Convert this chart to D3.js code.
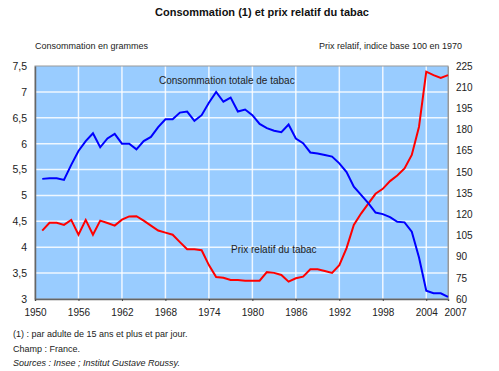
<!DOCTYPE html>
<html>
<head>
<meta charset="utf-8">
<script src="https://cdn.jsdelivr.net/npm/d3@7"></script>
<style>
  body { margin: 0; background: #fff; }
  text { font-family: Arial, "Liberation Sans", sans-serif; fill: #222; }
</style>
</head>
<body>
<div id="main"></div>
<script>
// years 1951..2007
var years = d3.range(1951, 2008);
var consommation = [5.32, 5.33, 5.33, 5.30, 5.59, 5.86, 6.05, 6.20, 5.93, 6.10,
  6.19, 6.00, 6.00, 5.89, 6.05, 6.13, 6.32, 6.47, 6.47, 6.60,
  6.62, 6.44, 6.55, 6.79, 7.00, 6.81, 6.89, 6.62, 6.66, 6.55,
  6.38, 6.30, 6.25, 6.22, 6.37, 6.10, 6.01, 5.83, 5.81, 5.78,
  5.75, 5.62, 5.45, 5.17, 5.01, 4.85, 4.67, 4.64, 4.58, 4.49,
  4.48, 4.30, 3.80, 3.16, 3.11, 3.11, 3.04];
var prix = [108.4, 114, 114, 112.5, 116, 105.5, 116, 105.5, 115.5, 113.8,
  112, 116.2, 118.5, 118.6, 115.5, 112, 108.5, 107, 105.5, 100.3,
  95.2, 95.2, 94.5, 84, 75.5, 75, 73.5, 73.5, 73, 73,
  73, 79, 78.5, 77, 72.3, 74.7, 75.8, 81, 81, 79.8,
  78.5, 84, 96, 112.5, 120.5, 127.5, 134.5, 138, 143.5, 147.5,
  152.5, 162, 182, 221, 218.5, 216.5, 218.5];
var xTicks = [1950, 1956, 1962, 1968, 1974, 1980, 1986, 1992, 1998, 2004, 2007];
var leftTicks = [3, 3.5, 4, 4.5, 5, 5.5, 6, 6.5, 7, 7.5];
var rightTicks = [60, 75, 90, 105, 120, 135, 150, 165, 180, 195, 210, 225];

var ctx = { w: 499, h: 371, left: 35, right: 448, top: 66, bottom: 299 };
var fmt = function(v){ return String(v).replace(".", ","); };

var svg = d3.select("#main").append("svg")
  .attr("width", ctx.w).attr("height", ctx.h);

var x = d3.scaleLinear().domain([1950, 2007]).range([ctx.left, ctx.right]);
var yL = d3.scaleLinear().domain([3, 7.5]).range([ctx.bottom, ctx.top]);
var yR = d3.scaleLinear().domain([60, 225]).range([ctx.bottom, ctx.top]);

// title and axis captions
svg.append("text").attr("x", 262).attr("y", 16).attr("text-anchor", "middle")
  .style("font-size", "11px").style("font-weight", "bold").style("fill", "#111")
  .text("Consommation (1) et prix relatif du tabac");
svg.append("text").attr("x", 35).attr("y", 49).style("font-size", "9px")
  .text("Consommation en grammes");
svg.append("text").attr("x", 462).attr("y", 49).attr("text-anchor", "end")
  .style("font-size", "9px").text("Prix relatif, indice base 100 en 1970");

// plot background
svg.append("rect").attr("x", ctx.left).attr("y", ctx.top)
  .attr("width", ctx.right - ctx.left).attr("height", ctx.bottom - ctx.top)
  .attr("fill", "#99ccff");

// grid
svg.append("g").selectAll("line").data(xTicks.slice(1, -1)).enter().append("line")
  .attr("x1", function(d){ return x(d); }).attr("x2", function(d){ return x(d); })
  .attr("y1", ctx.top).attr("y2", ctx.bottom)
  .attr("stroke", "#fff").attr("stroke-width", 1.5).attr("opacity", 0.85);
svg.append("g").selectAll("line").data(leftTicks.slice(1, -1)).enter().append("line")
  .attr("y1", function(d){ return yL(d); }).attr("y2", function(d){ return yL(d); })
  .attr("x1", ctx.left).attr("x2", ctx.right)
  .attr("stroke", "#fff").attr("stroke-width", 1.5).attr("opacity", 0.85);

// frame
svg.append("rect").attr("x", ctx.left).attr("y", ctx.top)
  .attr("width", ctx.right - ctx.left).attr("height", ctx.bottom - ctx.top)
  .attr("fill", "none").attr("stroke", "#999").attr("stroke-width", 1);

// axes
var gx = svg.append("g").attr("transform", "translate(0," + ctx.bottom + ")")
  .call(d3.axisBottom(x).tickValues(xTicks).tickFormat(d3.format("d")).tickSize(2).tickPadding(8));
var gl = svg.append("g").attr("transform", "translate(" + ctx.left + ",0)")
  .call(d3.axisLeft(yL).tickValues(leftTicks).tickFormat(fmt).tickSize(0).tickPadding(8));
var gr = svg.append("g").attr("transform", "translate(" + ctx.right + ",0)")
  .call(d3.axisRight(yR).tickValues(rightTicks).tickSize(0).tickPadding(8));
[gx, gl, gr].forEach(function(g){
  g.select(".domain").attr("stroke", "#666").attr("stroke-width", 1.5);
  g.selectAll("line").attr("stroke", "#444");
  g.selectAll("text").style("font-size", "10px").style("fill", "#222")
    .style("font-family", "Arial, 'Liberation Sans', sans-serif");
});
gl.selectAll("text").style("font-size", "10.5px");
gr.select(".domain").attr("stroke", "#999").attr("stroke-width", 1);
// last year label sits a little to the right, as in the original
gx.selectAll(".tick text").filter(function(d){ return d === 2007; }).attr("dx", 7);

// series
var lineL = d3.line().x(function(d, i){ return x(years[i]); }).y(function(d){ return yL(d); });
var lineR = d3.line().x(function(d, i){ return x(years[i]); }).y(function(d){ return yR(d); });
svg.append("path").datum(prix).attr("d", lineR)
  .attr("fill", "none").attr("stroke", "#ff0000").attr("stroke-width", 2);
svg.append("path").datum(consommation).attr("d", lineL)
  .attr("fill", "none").attr("stroke", "#0000ff").attr("stroke-width", 2);

// labels in plot
svg.append("text").attr("x", 159).attr("y", 84).style("font-size", "10px")
  .text("Consommation totale de tabac");
svg.append("text").attr("x", 231).attr("y", 253).style("font-size", "10px")
  .text("Prix relatif du tabac");

// notes
var notes = svg.append("g").style("font-size", "9px");
notes.append("text").attr("x", 13).attr("y", 337).text("(1) : par adulte de 15 ans et plus et par jour.");
notes.append("text").attr("x", 13).attr("y", 352).text("Champ : France.");
notes.append("text").attr("x", 13).attr("y", 366).style("font-style", "italic")
  .text("Sources : Insee ; Institut Gustave Roussy.");
</script>
</body>
</html>
